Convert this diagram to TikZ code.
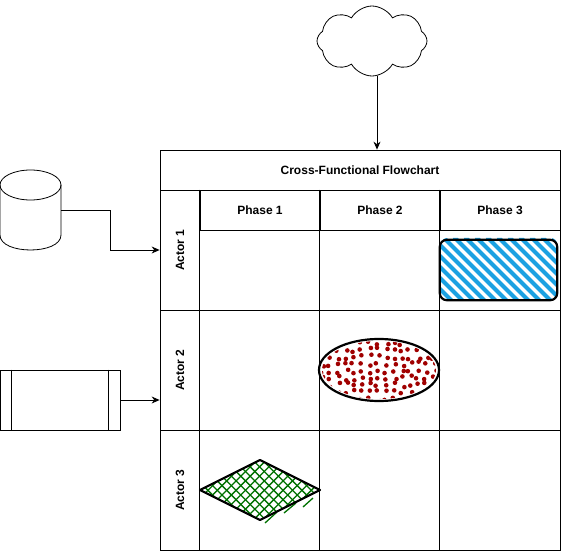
\documentclass[tikz,border=0pt]{standalone}
\usepackage{fontspec}
\setmainfont{Liberation Sans}
\usetikzlibrary{shapes.symbols,shapes.geometric,arrows.meta}
\definecolor{hatchblue}{RGB}{27,161,226}
\definecolor{dotred}{RGB}{160,0,0}
\definecolor{hatchgreen}{RGB}{0,112,0}
\begin{document}
\begin{tikzpicture}[x=1pt,y=-1pt,
  lbl/.style={font=\bfseries\fontsize{12}{14}\selectfont, inner sep=0},
  box/.style={draw, line width=0.8, inner sep=0, rectangle},
  arr/.style={-{Stealth[length=8,width=7]}, line width=0.8},
  sketch/.style={draw, line width=2.2, line join=round}
]
\useasboundingbox (0,0) rectangle (562,551);

% table
\node[box, minimum width=400, minimum height=40] (title) at (360,170) {};
\node[lbl] at (title) {Cross-Functional Flowchart};
\node[box, minimum width=400, minimum height=120] (lane1) at (360,250) {};
\node[box, minimum width=400, minimum height=120] (lane2) at (360,370) {};
\node[box, minimum width=400, minimum height=120] (lane3) at (360,490) {};
\node[box, minimum width=120, minimum height=40] (p1) at (260,210) {};
\node[box, minimum width=120, minimum height=40] (p2) at (380,210) {};
\node[box, minimum width=120, minimum height=40] (p3) at (500,210) {};
\node[lbl] at (p1) {Phase 1};
\node[lbl] at (p2) {Phase 2};
\node[lbl] at (p3) {Phase 3};
\draw[line width=0.8] (p1.north west) -- (p1.north west |- lane3.south);
\draw[line width=0.8] (p2.north west) -- (p2.north west |- lane3.south);
\draw[line width=0.8] (p3.north west) -- (p3.north west |- lane3.south);
\node[lbl, rotate=90] (a1) at (180,250) {Actor 1};
\node[lbl, rotate=90] (a2) at (180,370) {Actor 2};
\node[lbl, rotate=90] (a3) at (180,490) {Actor 3};

% cloud
\node[cloud, draw, line width=0.8, cloud puffs=8, cloud puff arc=120, cloud ignores aspect,
      minimum width=110, minimum height=70, inner sep=0] (cloud) at (372,41) {};
\draw[arr] ([xshift=5]cloud.south) -- ([xshift=5]cloud.south |- title.north);

% cylinder
\node[inner sep=0, minimum width=61, minimum height=80] (cyl) at (30.5,210) {};
\draw[line width=0.8] (30.5,185) ellipse [x radius=30.5, y radius=15];
\draw[line width=0.8] (0,185) -- (0,235) .. controls (0,255) and (61,255) .. (61,235) -- (61,185);
\draw[arr] (cyl.east) -- ++(49,0) |- (lane1.west);

% process
\node[box, minimum width=120, minimum height=60] (proc) at (60,400) {};
\draw[line width=0.8] ([xshift=12]proc.north west) -- ([xshift=12]proc.south west);
\draw[line width=0.8] ([xshift=-12]proc.north east) -- ([xshift=-12]proc.south east);
\draw[arr] (proc.east) -- (proc.east -| lane2.west);

% blue hatched rounded rectangle
\node[inner sep=0, minimum width=117, minimum height=60] (rr) at (498.5,270) {};
\begin{scope}
  \clip[rounded corners=7] ([shift={(1,-2)}]rr.north west) rectangle (rr.south east);
  \foreach \i in {0,...,17}
    \draw[hatchblue, line width=4.2, line cap=round] (378+\i*11,238) -- ++(66,66);
\end{scope}
\draw[sketch, rounded corners=7] (rr.north west) rectangle (rr.south east);

% red dotted ellipse
\node[ellipse, inner sep=0, minimum width=120, minimum height=62] (ell) at (379,370) {};
\begin{scope}
  \clip (379,370) ellipse [x radius=57, y radius=29];
  \pgfmathsetseed{7}
  \foreach \x in {322,330,...,436}
    \foreach \y in {343,350,...,399}{
      \pgfmathsetmacro{\mydx}{\x+rand*2.6}
      \pgfmathsetmacro{\mydy}{\y+rand*2.4}
      \fill[dotred] (\mydx pt,-\mydy pt) circle[radius=2.3pt];
    }
\end{scope}
\draw[sketch] (ell.center) ellipse [x radius=60, y radius=31];

% green cross-hatched diamond
\coordinate (dia) at (260,490);
\begin{scope}
  \clip (dia) ++(-60,0) -- ++(60,-30) -- ++(60,30) -- ++(-60,30) -- cycle;
  \foreach \i in {0,...,22}{
    \draw[hatchgreen, line width=1.3] (140+\i*9.4,530) -- ++(70,-70);
    \draw[hatchgreen, line width=1.3] (140+\i*9.4,460) -- ++(70,70);
  }
\end{scope}
\draw[hatchgreen, line width=1.3] (265,523) -- (277,512);
\draw[hatchgreen, line width=1.3] (284,513) -- (296,503);
\draw[hatchgreen, line width=1.3] (303,507) -- (313,498);
\draw[sketch] (dia) ++(-60,0) -- ++(60,-30) -- ++(60,30) -- ++(-60,30) -- cycle;
\end{tikzpicture}
\end{document}
